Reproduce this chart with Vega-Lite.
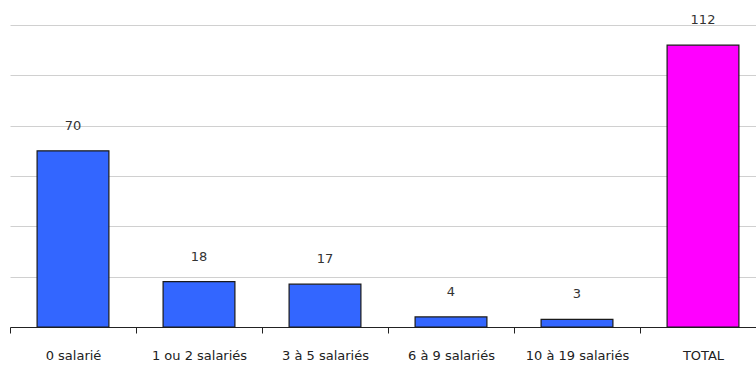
{
  "$schema": "https://vega.github.io/schema/vega-lite/v6.json",
  "autosize": {"type": "none"},
  "width": 746,
  "height": 302,
  "padding": {"left": 10, "top": 25, "right": 0, "bottom": 38},
  "background": "white",
  "config": {"view": {"stroke": null}},
  "data": {"values": [
    {"cat": "0 salarié", "v": 70, "total": "n"},
    {"cat": "1 ou 2 salariés", "v": 18, "total": "n"},
    {"cat": "3 à 5 salariés", "v": 17, "total": "n"},
    {"cat": "6 à 9 salariés", "v": 4, "total": "n"},
    {"cat": "10 à 19 salariés", "v": 3, "total": "n"},
    {"cat": "TOTAL", "v": 112, "total": "y"}
  ]},
  "encoding": {
    "x": {"field": "cat", "type": "nominal", "sort": null,
      "scale": {"range": [0, 756], "paddingInner": 0, "paddingOuter": 0},
      "axis": {"title": null, "labelAngle": 0, "labelFont": "DejaVu Sans", "labelFontSize": 13, "labelColor": "#222",
        "labelPadding": 16, "tickBand": "extent", "tickSize": 6, "tickColor": "#222", "domainColor": "#222",
        "grid": false}},
    "y": {"field": "v", "type": "quantitative",
      "scale": {"domain": [0, 120], "nice": false},
      "axis": {"title": null, "labels": false, "ticks": false, "domain": false, "values": [0, 20, 40, 60, 80, 100, 120],
        "gridColor": "#d0d0d0", "gridWidth": 1}}
  },
  "layer": [
    {"mark": {"type": "bar", "stroke": "#1a1a1a", "strokeWidth": 1.2, "width": {"band": 0.57}},
      "encoding": {"color": {"field": "total", "type": "nominal", "scale": {"domain": ["n", "y"], "range": ["#3366FF", "#FF00FF"]}, "legend": null}}},
    {"mark": {"type": "text", "dy": -25, "baseline": "middle", "font": "DejaVu Sans", "fontSize": 13, "color": "#333"},
      "encoding": {"text": {"field": "v", "type": "quantitative"}}}
  ]
}
